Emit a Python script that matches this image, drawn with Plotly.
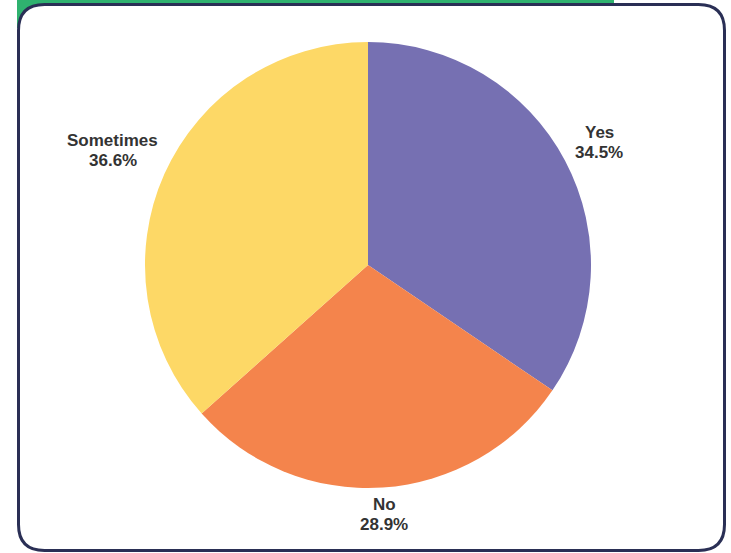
import math
import plotly.graph_objects as go

W, H = 731, 553

# Survey answers and their shares (%)
labels = ["Yes", "No", "Sometimes"]
shares = [34.5, 28.9, 36.6]
colors = ["#7670b2", "#f4844c", "#fdd866"]

# pie placement (pixel margins around the pie domain)
DOM_L, DOM_R, DOM_T, DOM_B = 5, 0, 42, 65
LABEL_SIZE = 17
LABEL_GAP = 8
LINE_STEP = 10  # half distance between the two label lines


def px(x):
    return x / W


def py(y):
    return 1 - y / H


def rounded_box(x0, y0, x1, y1, r):
    """SVG path for a rounded rectangle, given in pixel coords, output in paper coords."""
    pts = [
        f"M {px(x0 + r):.5f} {py(y0):.5f}",
        f"L {px(x1 - r):.5f} {py(y0):.5f}",
        f"Q {px(x1):.5f} {py(y0):.5f} {px(x1):.5f} {py(y0 + r):.5f}",
        f"L {px(x1):.5f} {py(y1 - r):.5f}",
        f"Q {px(x1):.5f} {py(y1):.5f} {px(x1 - r):.5f} {py(y1):.5f}",
        f"L {px(x0 + r):.5f} {py(y1):.5f}",
        f"Q {px(x0):.5f} {py(y1):.5f} {px(x0):.5f} {py(y1 - r):.5f}",
        f"L {px(x0):.5f} {py(y0 + r):.5f}",
        f"Q {px(x0):.5f} {py(y0):.5f} {px(x0 + r):.5f} {py(y0):.5f}",
        "Z",
    ]
    return " ".join(pts)


fig = go.Figure(
    go.Pie(
        labels=labels,
        values=shares,
        marker=dict(colors=colors, line=dict(width=0)),
        sort=False,
        direction="clockwise",
        rotation=0,
        textinfo="none",
        domain=dict(x=[DOM_L / W, 1 - DOM_R / W], y=[DOM_B / H, 1 - DOM_T / H]),
        automargin=False,
        showlegend=False,
        hoverinfo="label+percent",
    )
)

# outside labels: centred on each slice's mid-angle, just beyond the rim
cx = (DOM_L + W - DOM_R) / 2
cy = (DOM_T + H - DOM_B) / 2
R = min(W - DOM_L - DOM_R, H - DOM_T - DOM_B) / 2
total = sum(shares)
font = dict(family="Liberation Sans, Arial, sans-serif", size=LABEL_SIZE, color="#333333")
annotations = []
start = 0.0
for name, val in zip(labels, shares):
    mid = (start + val / 2) / total * 2 * math.pi
    start += val
    value_txt = f"{val:.1f}%"
    hw = max(len(name), len(value_txt)) * LABEL_SIZE * 0.6 / 2
    hh = LABEL_SIZE
    ux, uy = math.sin(mid), -math.cos(mid)
    d = R + LABEL_GAP + abs(ux) * hw + abs(uy) * hh
    lx, ly = cx + d * ux, cy + d * uy
    for txt, shift in ((name, LINE_STEP), (value_txt, -LINE_STEP)):
        annotations.append(dict(
            x=px(lx), y=py(ly), xref="paper", yref="paper",
            text=f"<b>{txt}</b>", showarrow=False,
            xanchor="center", yanchor="middle", yshift=shift,
            font=font,
        ))

fig.update_layout(
    width=W,
    height=H,
    autosize=False,
    margin=dict(l=0, r=0, t=0, b=0, pad=0, autoexpand=False),
    paper_bgcolor="white",
    plot_bgcolor="white",
    annotations=annotations,
    shapes=[
        # green header strip behind the card
        dict(
            type="rect", xref="paper", yref="paper",
            x0=px(17), x1=px(614), y0=py(28), y1=py(0),
            fillcolor="#2fb26f", line=dict(width=0), layer="below",
        ),
        # white card with dark rounded border
        dict(
            type="path", xref="paper", yref="paper",
            path=rounded_box(18.5, 4.5, 724.5, 550.5, 26),
            fillcolor="white", line=dict(color="#2a2f55", width=3), layer="below",
        ),
    ],
)

fig.write_html("out.html")
